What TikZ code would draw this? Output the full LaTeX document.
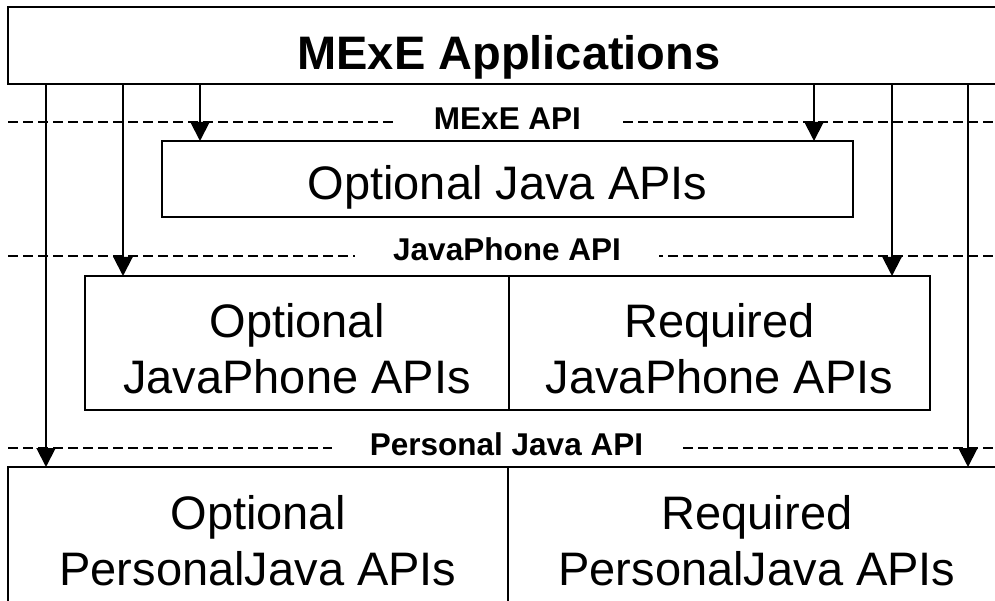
\documentclass[tikz,border=0pt]{standalone}
\usepackage{fontspec}
\setmainfont{Liberation Sans}
\usepackage{tikz}
\usetikzlibrary{arrows.meta, positioning}

\begin{document}
\begin{tikzpicture}[x=1pt, y=-1pt, >={Triangle[width=19pt,length=19pt]}]
    \tikzstyle{layer}=[draw, line width=2pt, outer sep=0pt, inner sep=0pt, align=center, font=\fontsize{47}{56}\selectfont]
    \tikzstyle{apilabel}=[fill=white, inner xsep=38pt, inner ysep=0pt, text height=30pt, anchor=base, font=\fontsize{31.5}{38}\selectfont\bfseries]
    \tikzstyle{flow}=[->, line width=2pt]
    \tikzstyle{sep}=[line width=1.6pt, dash pattern=on 10pt off 5pt]

    \clip (0,0) rectangle (995,601);

    % layers
    \node[layer, minimum width=1002pt, minimum height=77pt, text height=49pt, text depth=0pt, font=\fontsize{47}{56}\selectfont\bfseries]
        (app) at (509,45.5) {MExE Applications};
    \node[layer, minimum width=691pt, minimum height=76pt, text height=42pt, text depth=0pt]
        (optjava) at (507.5,179) {Optional Java APIs};
    \node[layer, minimum width=424pt, minimum height=134pt, text height=101pt, text depth=0pt]
        (ophone) at (297,343) {Optional\\JavaPhone APIs};
    \node[layer, minimum width=421pt, minimum height=134pt, text height=101pt, text depth=0pt]
        (rphone) [right=0pt of ophone] {Required\\JavaPhone APIs};
    \node[layer, minimum width=500pt, minimum height=147pt] (opj) at (258,540.5) {Optional\\PersonalJava APIs};
    \node[layer, minimum width=498pt, minimum height=147pt] (rpj) [right=0pt of opj] {Required\\PersonalJava APIs};

    % API boundaries
    \draw[sep] (8,122) -- (995,122);
    \draw[sep] (8,256) -- (995,256);
    \draw[sep] (8,448) -- (995,448);

    % calls down from the applications
    \coordinate (a1) at ([xshift=38pt]opj.north west);
    \coordinate (a2) at ([xshift=38pt]ophone.north west);
    \coordinate (a3) at ([xshift=38pt]optjava.north west);
    \coordinate (a4) at ([xshift=-39pt]optjava.north east);
    \coordinate (a5) at ([xshift=-38pt]rphone.north east);
    \coordinate (a6) at ([xshift=-38pt]rpj.north east);
    \foreach \c in {1,...,6}
        \draw[flow] (a\c |- app.south) -- (a\c);

    \node[apilabel, text depth=10pt] (mexeapi) at (507.5,130) {MExE API};
    \node[apilabel, text depth=14pt] (phoneapi) at (507,261) {JavaPhone API};
    \node[apilabel, text depth=11pt] (pjapi) at (506.5,455) {Personal Java API};
\end{tikzpicture}
\end{document}
